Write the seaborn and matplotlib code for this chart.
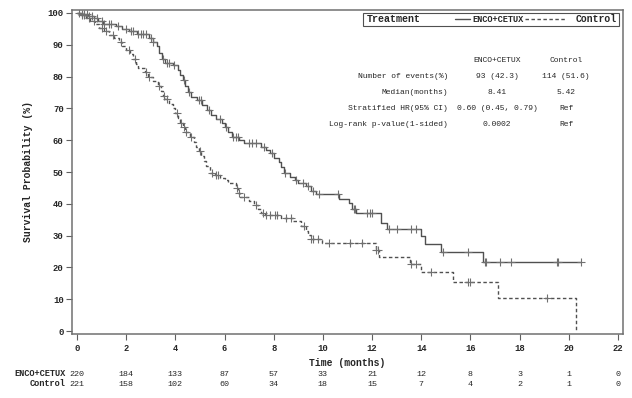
import numpy as np
import pandas as pd
import matplotlib
matplotlib.use("Agg")
import matplotlib.pyplot as plt
import seaborn as sns
from matplotlib.lines import Line2D
from matplotlib.patches import Rectangle
import matplotlib.transforms as mtransforms

# Kaplan-Meier step points (time in months, survival %)
enco_t = [0, 0.2, 0.45, 0.7, 0.85, 1.05, 1.6, 1.85, 2.1, 2.45, 2.95, 3.1, 3.25, 3.35, 3.45,
          3.6, 3.9, 4.1, 4.2, 4.3, 4.4, 4.5, 4.65, 4.9, 5.1, 5.3, 5.45, 5.65, 5.9, 6.0,
          6.15, 6.3, 6.6, 6.8, 7.5, 7.7, 7.85, 8.0, 8.2, 8.3, 8.41, 8.65, 8.85, 9.0, 9.3,
          9.5, 9.7, 10.65, 11.05, 11.2, 11.35, 12.35, 12.6, 13.98, 14.15, 14.82, 16.5, 20.5]
enco_s = [100, 99.5, 99.0, 98.3, 97.5, 96.5, 95.8, 95.0, 94.2, 93.5, 92.0, 90.8, 89.5, 87.5, 85.5,
          84.3, 83.5, 82.0, 80.5, 79.0, 77.0, 75.0, 73.5, 72.5, 71.0, 69.5, 68.0, 66.5, 65.5, 64.0,
          62.5, 61.0, 60.0, 59.0, 58.0, 57.0, 56.0, 54.5, 53.0, 51.5, 49.8, 48.5, 47.5, 46.5, 45.5,
          44.0, 43.0, 41.5, 40.2, 38.5, 37.2, 34.0, 32.2, 29.8, 27.3, 24.8, 21.6, 21.6]

ctrl_t = [0, 0.15, 0.35, 0.55, 0.75, 0.9, 1.1, 1.3, 1.5, 1.7, 1.85, 2.0, 2.15, 2.3, 2.4,
          2.5, 2.75, 2.9, 3.1, 3.3, 3.4, 3.5, 3.6, 3.75, 3.9, 4.0, 4.1, 4.2, 4.3, 4.4,
          4.6, 4.75, 4.85, 4.95, 5.05, 5.15, 5.25, 5.42, 5.6, 5.8, 6.0, 6.15, 6.45, 6.55, 6.65,
          7.0, 7.2, 7.35, 7.5, 7.65, 8.3, 8.8, 9.1, 9.3, 9.4, 9.5, 9.95, 12.15, 12.3, 13.55,
          13.97, 15.3, 17.1, 20.3]
ctrl_s = [100, 99.3, 98.5, 97.5, 96.5, 95.3, 94.3, 93.2, 92.0, 91.0, 89.5, 88.3, 87.0, 85.5, 84.0,
          82.8, 81.5, 80.0, 78.5, 77.0, 75.5, 74.0, 72.8, 71.5, 70.0, 68.5, 67.0, 65.5, 64.0, 62.5,
          61.0, 59.5, 58.0, 56.5, 55.0, 53.5, 52.0, 49.8, 49.0, 48.2, 47.5, 46.5, 45.0, 43.5, 42.0,
          40.8, 39.5, 38.3, 37.2, 36.4, 35.5, 34.5, 33.0, 31.5, 30.2, 28.8, 27.6, 25.5, 23.3, 21.1,
          18.6, 15.5, 10.3, 0]

# censoring times
enco_cens = [0.1, 0.2, 0.3, 0.4, 0.5, 0.6, 0.8, 1.0, 1.1, 1.3, 1.4, 1.65, 2.0, 2.2, 2.3, 2.5, 2.6,
             2.7, 2.8, 3.0, 3.1, 3.5, 3.65, 3.75, 3.95, 4.35, 4.55, 4.95, 5.05, 5.35, 5.8, 6.05,
             6.35, 6.45, 6.55, 7.0, 7.1, 7.3, 7.6, 7.95, 8.45, 8.9, 9.2, 9.4, 9.6, 9.85, 10.6,
             11.25, 11.3, 11.8, 11.9, 12.0, 12.7, 13.0, 13.6, 13.8, 14.9, 15.9, 16.6, 16.65, 17.2,
             17.65, 19.5, 19.55, 20.5]
ctrl_cens = [0.2, 0.3, 0.5, 0.7, 1.0, 1.2, 1.45, 1.8, 2.1, 2.35, 2.8, 2.95, 3.35, 3.55, 3.65, 4.05,
             4.25, 4.35, 4.45, 4.65, 5.0, 5.5, 5.65, 5.75, 6.5, 6.6, 6.8, 7.3, 7.55, 7.7, 7.85, 8.05,
             8.15, 8.5, 8.7, 9.25, 9.5, 9.6, 9.8, 10.25, 11.1, 11.6, 12.15, 12.22, 13.6, 13.8, 14.4,
             15.9, 16.0, 19.1]

risk_times = [0, 2, 4, 6, 8, 10, 12, 14, 16, 18, 20, 22]
enco_risk = [220, 184, 133, 87, 57, 33, 21, 12, 8, 3, 1, 0]
ctrl_risk = [221, 158, 102, 60, 34, 18, 15, 7, 4, 2, 1, 0]

stat_rows = ["Number of events(%)", "Median(months)", "Stratified HR(95% CI)",
             "Log-rank p-value(1-sided)"]
stat_enco = ["93 (42.3)", "8.41", "0.60 (0.45, 0.79)", "0.0002"]
stat_ctrl = ["114 (51.6)", "5.42", "Ref", "Ref"]

sns.set_style("white")
plt.rcParams["font.family"] = ["Liberation Mono", "DejaVu Sans Mono"]

W, H = 632, 398
fig = plt.figure(figsize=(W / 100, H / 100), dpi=100)
ax = fig.add_axes([72 / W, 1 - 334 / H, (623 - 72) / W, (334 - 10) / H])

LINE = "#505050"
MARK = "#707070"

df_e = pd.DataFrame({"t": enco_t, "s": enco_s})
df_c = pd.DataFrame({"t": ctrl_t, "s": ctrl_s})
sns.lineplot(data=df_e, x="t", y="s", drawstyle="steps-post", color=LINE, lw=1.0,
             estimator=None, ax=ax)
sns.lineplot(data=df_c, x="t", y="s", drawstyle="steps-post", color=LINE, lw=1.0,
             linestyle=(0, (2.5, 1.8)), estimator=None, ax=ax)


def step_at(ts, ss, q):
    idx = np.searchsorted(ts, q, side="right") - 1
    return np.asarray(ss)[idx]


cens_e = pd.DataFrame({"t": enco_cens, "s": step_at(enco_t, enco_s, enco_cens)})
cens_c = pd.DataFrame({"t": ctrl_cens, "s": step_at(ctrl_t, ctrl_s, ctrl_cens)})
for d in (cens_e, cens_c):
    sns.scatterplot(data=d, x="t", y="s", marker="+", s=28, color=MARK, linewidth=0.8,
                    ax=ax, zorder=3)

ax.set_xlim(-0.2, 22.2)
ax.set_ylim(-0.9, 100.9)
ax.set_xticks(range(0, 23, 2))
ax.set_yticks(range(0, 101, 10))
tick_font = dict(fontsize=6.4, fontweight="bold")
ax.set_xticklabels([str(v) for v in range(0, 23, 2)], **tick_font)
ax.set_yticklabels([str(v) for v in range(0, 101, 10)], **tick_font)
ax.tick_params(axis="both", direction="out", length=4, width=0.8, color="#606060",
               bottom=True, left=True, pad=2)
ax.tick_params(axis="x", pad=3)
for sp in ax.spines.values():
    sp.set_color("#707070")
    sp.set_linewidth(1.1)
ax.set_xlabel("")
ax.set_ylabel("")

fig.text(28 / W, 1 - 172 / H, "Survival Probability (%)", rotation=90, ha="center",
         va="center", fontsize=7, fontweight="bold")
trans = mtransforms.blended_transform_factory(ax.transData, fig.transFigure)
ax.text(11, 1 - 363 / H, "Time (months)", transform=trans, ha="center", va="center",
        fontsize=7, fontweight="bold")

# number at risk
for yy, lab, vals in [(374, "ENCO+CETUX", enco_risk), (384, "Control", ctrl_risk)]:
    fig.text(66 / W, 1 - yy / H, lab, ha="right", va="center", fontsize=6.2,
             fontweight="bold")
    for t, v in zip(risk_times, vals):
        ax.text(t, 1 - yy / H, str(v), transform=trans, ha="center", va="center",
                fontsize=6.0)

# legend box
fig.patches.append(Rectangle((363 / W, 1 - 25.5 / H), (619 - 363) / W, 13 / H,
                             transform=fig.transFigure, fill=False, ec="#505050", lw=0.8))
ly = 1 - 19 / H
fig.text(367 / W, ly, "Treatment", ha="left", va="center", fontsize=7.2, fontweight="bold")
fig.lines.append(Line2D([455 / W, 470 / W], [ly, ly], transform=fig.transFigure,
                        color=LINE, lw=1.0))
fig.text(472 / W, ly, "ENCO+CETUX", ha="left", va="center", fontsize=6.2, fontweight="bold")
fig.lines.append(Line2D([525 / W, 566 / W], [ly, ly], transform=fig.transFigure,
                        color=LINE, lw=1.0, linestyle=(0, (2.5, 1.8))))
fig.text(617 / W, ly, "Control", ha="right", va="center", fontsize=7.0, fontweight="bold")

# statistics table
fig.text(497 / W, 1 - 61 / H, "ENCO+CETUX", ha="center", va="center", fontsize=5.8)
fig.text(566 / W, 1 - 61 / H, "Control", ha="center", va="center", fontsize=5.8)
for yy, lab, a, b in zip([77, 93, 108, 124], stat_rows, stat_enco, stat_ctrl):
    fig.text(448 / W, 1 - yy / H, lab, ha="right", va="center", fontsize=5.8)
    fig.text(497 / W, 1 - yy / H, a, ha="center", va="center", fontsize=5.8)
    fig.text(566 / W, 1 - yy / H, b, ha="center", va="center", fontsize=5.8)

fig.savefig("out.png", dpi=100)
